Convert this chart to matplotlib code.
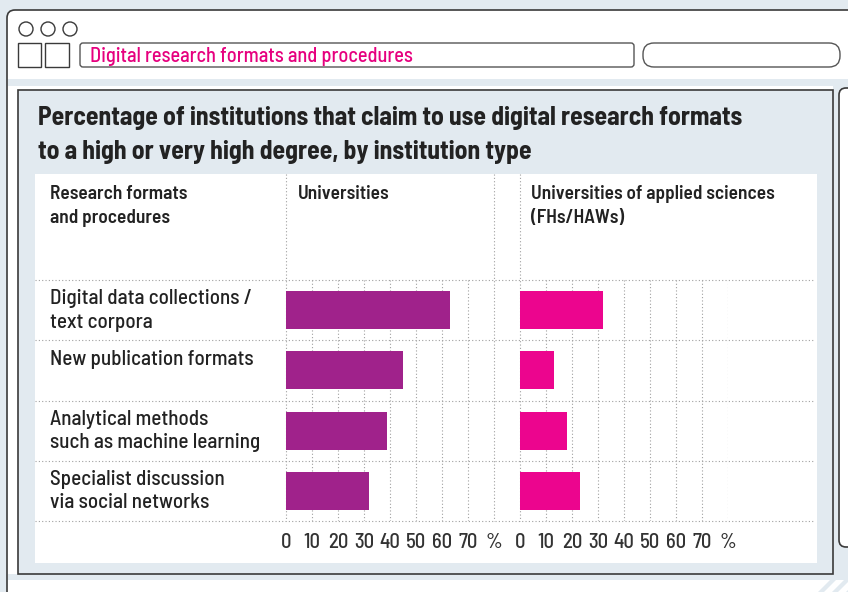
import matplotlib
matplotlib.use("Agg")
import matplotlib.pyplot as plt
from matplotlib.patches import Rectangle, FancyBboxPatch, Circle, Polygon
import numpy as np

plt.rcParams['font.family'] = ['Barlow Semi Condensed', 'Barlow Condensed', 'DejaVu Sans']

# data
formats = ["Digital data collections /\ntext corpora",
           "New publication formats",
           "Analytical methods\nsuch as machine learning",
           "Specialist discussion\nvia social networks"]
universities = [63, 45, 39, 32]
fh_haw = [32, 13, 18, 23]
tick_vals = [0, 10, 20, 30, 40, 50, 60, 70, 80]
tick_labels = ["0", "10", "20", "30", "40", "50", "60", "70", "%"]

header_text = "Digital research formats and procedures"
title_lines = ["Percentage of institutions that claim to use digital research formats",
               "to a high or very high degree, by institution type"]
col_heads = [("Research formats", "and procedures"),
             ("Universities",),
             ("Universities of applied sciences", "(FHs/HAWs)")]

PURPLE = "#a0228b"
PINK = "#ec058e"
BG = "#e2eaf0"
EDGE = "#3a3a3a"
TXT = "#222222"
DOT = dict(color="#a0a0a0", lw=0.8, linestyle=(0, (1, 2)))

W, H = 848, 592
fig = plt.figure(figsize=(W / 100, H / 100), dpi=100)
fig.patch.set_facecolor(BG)
renderer = fig.canvas.get_renderer()

def fit(t, target_px):
    # scale font so the text is as wide as in the reference
    w = t.get_window_extent(renderer).width
    t.set_fontsize(t.get_fontsize() * target_px / w)
    return t.get_fontsize()

# background axes in pixel coordinates
bg = fig.add_axes([0, 0, 1, 1])
bg.set_xlim(0, W)
bg.set_ylim(H, 0)
bg.axis("off")

# window frame
bg.add_patch(FancyBboxPatch((7, 10), 880, 620, boxstyle="round,pad=0,rounding_size=8",
                            fc="white", ec=EDGE, lw=1.2))
for cx in (26, 48, 70):
    bg.add_patch(Circle((cx, 29), 7, fc="none", ec=EDGE, lw=1))
bg.add_patch(Rectangle((18, 43), 23, 24, fc="none", ec=EDGE, lw=1))
bg.add_patch(Rectangle((45, 43), 24, 24, fc="none", ec=EDGE, lw=1))
bg.add_patch(FancyBboxPatch((80, 43), 554, 24, boxstyle="round,pad=0,rounding_size=3",
                            fc="none", ec="#555555", lw=1))
bg.add_patch(FancyBboxPatch((643, 43), 197, 24, boxstyle="round,pad=0,rounding_size=11",
                            fc="none", ec="#555555", lw=1))
t = bg.text(90, 56, header_text, color="#e6007e", fontsize=13, fontweight="medium",
            va="center", ha="left")
fit(t, 323)

# light bands and panel
bg.add_patch(Rectangle((8, 79), 840, 7, fc=BG, ec="none"))
bg.add_patch(Rectangle((8, 574), 840, 6, fc=BG, ec="none"))
bg.add_patch(Rectangle((833, 86), 15, 490, fc=BG, ec="none"))
bg.add_patch(Rectangle((18, 90), 815, 484, fc=BG, ec=EDGE, lw=1.2))
bg.add_patch(FancyBboxPatch((839, 88), 40, 459, boxstyle="round,pad=0,rounding_size=7",
                            fc="white", ec=EDGE, lw=1.2))
for x0 in (818, 832, 846):
    bg.add_patch(Polygon([(x0, 592), (x0 + 6, 592), (x0 + 20, 578), (x0 + 14, 578)],
                         closed=True, fc=BG, ec="none"))
bg.add_patch(Rectangle((35, 174), 782, 389, fc="white", ec="none"))

# title
tt = [bg.text(38, 118 + 34 * i, line, fontsize=15, fontweight="bold", color=TXT,
              va="center", ha="left") for i, line in enumerate(title_lines)]
ts = fit(tt[0], 707)
tt[1].set_fontsize(ts)

# layout of chart table (pixels)
row_top, row_h = 280, 60.25
uni_x0, fh_x0, unit = 286, 520, 2.6
n = len(formats)

# column headers
hd = []
for x, lines in zip((50, 298, 531), col_heads):
    for j, line in enumerate(lines):
        hd.append(bg.text(x, 194 + 24 * j, line, fontsize=12, fontweight="semibold",
                          color=TXT, va="center", ha="left"))
hs = fit(hd[0], 137)
for h in hd:
    h.set_fontsize(hs)

# row separators
for k in range(n + 1):
    y = row_top + k * row_h
    bg.plot([35, 815], [y, y], **DOT)
# tall column separators
bottom = row_top + n * row_h
for x in (uni_x0, uni_x0 + tick_vals[-1] * unit, fh_x0):
    bg.plot([x, x], [174, bottom], **DOT)

# row labels
rl = []
for k, lab in enumerate(formats):
    for j, line in enumerate(lab.split("\n")):
        rl.append(bg.text(50, row_top + k * row_h + 19 + 23 * j, line, fontsize=12.5,
                          fontweight="medium", color=TXT, va="center", ha="left"))
bs = fit(rl[0], 202)
for r in rl:
    r.set_fontsize(bs)

# data axes
def panel(x0, vals, color, grid_ticks):
    ax = fig.add_axes([x0 / W, (H - bottom) / H, tick_vals[-1] * unit / W, n * row_h / H])
    ax.set_xlim(0, tick_vals[-1])
    ax.set_ylim(n - 0.5, -0.5)
    ax.patch.set_alpha(0)
    for s in ax.spines.values():
        s.set_visible(False)
    for t in grid_ticks:
        ax.axvline(t, **DOT)
    ax.barh(np.arange(n), vals, height=0.63, color=color, zorder=3)
    ax.set_xticks(tick_vals)
    ax.set_xticklabels(tick_labels, fontweight="medium")
    ax.set_yticks([])
    ax.tick_params(axis="x", length=0, pad=9, labelsize=bs * 0.98, labelcolor="#333333")
    return ax

panel(uni_x0, universities, PURPLE, tick_vals[1:-1])
panel(fh_x0, fh_haw, PINK, tick_vals[1:])

fig.savefig("out.png", dpi=100, facecolor=fig.get_facecolor())
